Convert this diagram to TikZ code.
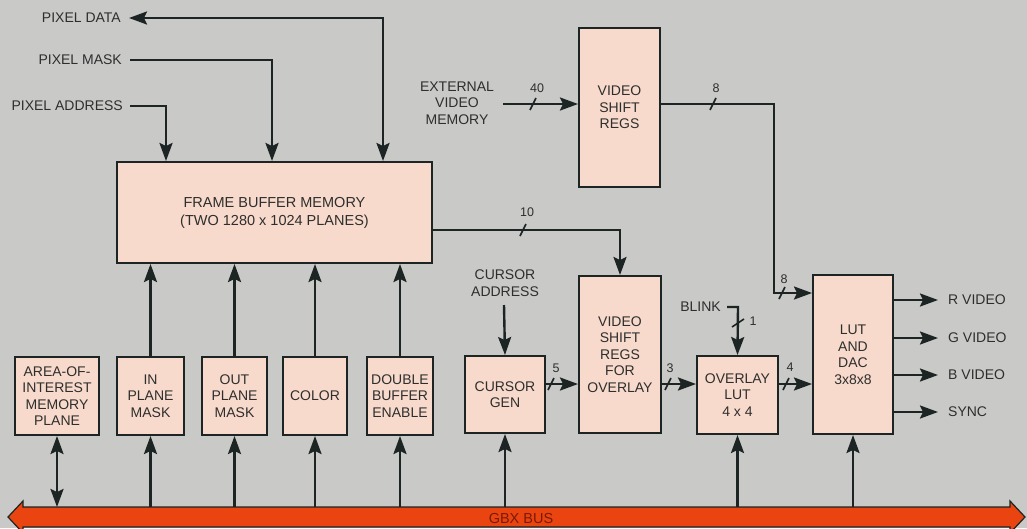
\documentclass[tikz,border=0pt]{standalone}
\usepackage{fontspec}
\setmainfont{Liberation Sans}
\usetikzlibrary{arrows.meta}
\definecolor{bgc}{HTML}{C9CAC8}
\definecolor{boxc}{HTML}{F7DACB}
\definecolor{linec}{HTML}{1C2424}
\definecolor{txtc}{HTML}{2E2E2E}
\definecolor{busc}{HTML}{EA4510}
\definecolor{bustxt}{HTML}{7A1A05}
\tikzset{
  blk/.style={draw=linec, fill=boxc, line width=2pt, align=center, inner sep=0pt, text=txtc,
    font=\fontsize{14}{16.5}\selectfont},
  lbl/.style={text=txtc, align=center, inner sep=0pt, font=\fontsize{14}{16.5}\selectfont},
  num/.style={text=txtc, inner sep=0pt, font=\fontsize{12.5}{14}\selectfont},
  wire/.style={draw=linec, line width=2.4pt},
  arr/.style={wire, -{Stealth[length=18pt,width=13pt,inset=3pt]}},
  darr/.style={wire, {Stealth[length=18pt,width=13pt,inset=3pt]}-{Stealth[length=18pt,width=13pt,inset=3pt]}},
  slashln/.style={draw=linec, line width=1.6pt}
}
\newcommand\bitslash[2]{\draw[slashln] (#1-3,#2+6) -- (#1+3,#2-6);}
\newcommand\vbitslash[2]{\draw[slashln] (#1-6,#2+4) -- (#1+6,#2-4);}
\begin{document}
\begin{tikzpicture}[x=1pt,y=-1pt]
\useasboundingbox (0,0) rectangle (1027,528);
\fill[bgc] (0,0) rectangle (1027,528);

% bus
\draw[fill=busc, draw=linec, line width=1.2pt]
  (8,517) -- (23,501) -- (23,507) -- (1010,507) -- (1010,501) -- (1025,517)
  -- (1010,533) -- (1010,527) -- (23,527) -- (23,533) -- cycle;
\node[text=bustxt, inner sep=0pt, font=\fontsize{14.5}{16}\selectfont] (bus) at (521,518) {GBX BUS};
\coordinate (bustop) at (0,507);

% blocks
\node[blk, minimum width=315pt, minimum height=101pt, font=\fontsize{14.5}{18}\selectfont] (fbm) at (274.5,212.5)
  {FRAME BUFFER MEMORY\\(TWO 1280 x 1024 PLANES)};
\node[blk, minimum width=81pt, minimum height=159pt, anchor=north] (vsr) at (619.5,27) {VIDEO\\SHIFT\\REGS};
\node[blk, minimum width=82pt, minimum height=157pt] (vsro) at (620,354.5) {VIDEO\\SHIFT\\REGS\\FOR\\OVERLAY};
\node[blk, minimum width=80pt, minimum height=77pt] (cg) at (505,394.5) {CURSOR\\GEN};
\node[blk, minimum width=81pt, minimum height=78pt] (ol) at (737.5,395) {OVERLAY\\LUT\\4 x 4};
\node[blk, minimum width=80pt, minimum height=159pt] (lut) at (853,354.5) {LUT\\AND\\DAC\\3x8x8};
\node[blk, minimum width=84pt, minimum height=78pt] (aoi) at (57,396) {AREA-OF-\\INTEREST\\MEMORY\\PLANE};
\node[blk, minimum width=67pt, minimum height=78pt] (inm) at (150.5,396) {IN\\PLANE\\MASK};
\node[blk, minimum width=65pt, minimum height=78pt] (outm) at (234.5,396) {OUT\\PLANE\\MASK};
\node[blk, minimum width=64pt, minimum height=78pt] (col) at (315,396) {COLOR};
\node[blk, minimum width=66pt, minimum height=78pt] (dbl) at (400,396) {DOUBLE\\BUFFER\\ENABLE};

% text labels
\node[lbl, anchor=east] (pdata) at (121,18) {PIXEL DATA};
\node[lbl, anchor=east] (pmask) at (122,60) {PIXEL MASK};
\node[lbl, anchor=east] (paddr) at (123,106) {PIXEL ADDRESS};
\node[lbl] (evm) at (457,103) {EXTERNAL\\VIDEO\\MEMORY};
\node[lbl] (caddr) at (505,283) {CURSOR\\ADDRESS};
\node[lbl, anchor=east] (blink) at (721,307) {BLINK};
\node[lbl, anchor=west] (rv) at (948,300) {R VIDEO};
\node[lbl, anchor=west] (gv) at (948,338) {G VIDEO};
\node[lbl, anchor=west] (bv) at (948,375) {B VIDEO};
\node[lbl, anchor=west] (sync) at (948,412) {SYNC};

% top inputs
\draw[darr] ([xshift=8pt]pdata.east) -| (383,0 |- fbm.north);
\draw[arr] ([xshift=8pt]pmask.east) -| (272,0 |- fbm.north);
\draw[arr] ([xshift=7pt]paddr.east) -| (166,0 |- fbm.north);

% small blocks to frame buffer
\foreach \b in {inm,outm,col,dbl}{
  \draw[arr] (\b.north) -- (\b.north |- fbm.south);
}
% bus connections
\draw[darr] (aoi.south |- bustop) -- (aoi.south);
\foreach \b in {inm,outm,col,dbl,cg,ol,lut}{
  \draw[arr] (\b.south |- bustop) -- (\b.south);
}

% external video memory -> vsr
\coordinate (evmend) at (503,104);
\draw[arr] (evmend) -- (vsr.west |- evmend);
\bitslash{533}{104}
\node[num] (n40) at (537,88) {40};

% vsr -> lut
\coordinate (c8a) at (774,104);
\draw[arr] (vsr.east |- c8a) -- (c8a) |- ([yshift=61.5pt]lut.west);
\bitslash{713}{104}
\node[num] (n8a) at (716,88) {8};
\bitslash{782}{293}
\node[num] (n8b) at (784,279) {8};

% fbm -> vsro
\coordinate (c10) at (620,230);
\draw[arr] (fbm.east |- c10) -- (c10) -- (vsro.north);
\bitslash{523}{230}
\node[num] (n10) at (527,212) {10};

% cursor address -> cursor gen
\coordinate (castart) at (504,305);
\draw[arr] (castart) -- (cg.north);

% chain
\coordinate (chain) at (0,384);
\draw[arr] (cg.east |- chain) -- (vsro.west |- chain);
\bitslash{551}{384}
\node[num] (n5) at (556,368) {5};
\draw[arr] (vsro.east |- chain) -- (ol.west |- chain);
\bitslash{668}{384}
\node[num] (n3) at (670,368) {3};
\draw[arr] (ol.east |- chain) -- (lut.west |- chain);
\bitslash{786}{384}
\node[num] (n4) at (790,367) {4};

% blink
\coordinate (bl) at (738,307);
\draw[arr] ([xshift=6pt]blink.east |- bl) -- (bl) -- (ol.north);
\vbitslash{738}{323}
\node[num] (n1) at (753,321) {1};

% outputs
\draw[arr] (lut.east |- rv) -- (rv.west -| 938,0);
\draw[arr] (lut.east |- gv) -- (gv.west -| 938,0);
\draw[arr] (lut.east |- bv) -- (bv.west -| 938,0);
\draw[arr] (lut.east |- sync) -- (sync.west -| 938,0);
\end{tikzpicture}
\end{document}
